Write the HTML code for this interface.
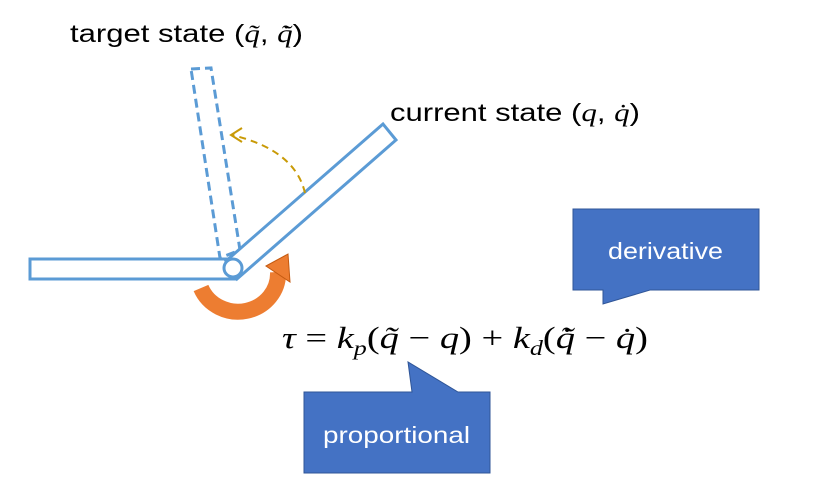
<!DOCTYPE html>
<html><head><meta charset="utf-8"><style>
html,body{margin:0;padding:0;background:#fff;}
svg{display:block;}
.t{font-family:"Liberation Sans",sans-serif;font-size:25px;fill:#000;}
.m{font-family:"Liberation Serif",serif;font-style:italic;}
.w{font-family:"Liberation Sans",sans-serif;font-size:23px;fill:#fff;}
</style></head><body>
<svg width="818" height="492" viewBox="0 0 818 492" xmlns="http://www.w3.org/2000/svg">
<text class="t" x="70" y="42" textLength="233" lengthAdjust="spacingAndGlyphs">target state (<tspan class="m">q̃</tspan>, <tspan class="m">q̃̇</tspan>)</text>
<text class="t" x="390" y="121" textLength="250" lengthAdjust="spacingAndGlyphs">current state (<tspan class="m">q</tspan>, <tspan class="m">q̇</tspan>)</text>

<!-- dashed target link -->
<polygon points="191,69 211,68 240,250 220,258" fill="none" stroke="#5B9BD5" stroke-width="3" stroke-dasharray="9,5"/>
<!-- base link -->
<rect x="30" y="259" width="205" height="20" fill="#fff" stroke="#5B9BD5" stroke-width="3"/>
<!-- current link -->
<polygon points="226,261 383,124 396,140 237,279" fill="#fff" stroke="#5B9BD5" stroke-width="3"/>
<circle cx="233" cy="268" r="9" fill="#fff" stroke="#5B9BD5" stroke-width="3"/>

<!-- yellow dashed arc -->
<path d="M305,193 Q295,150 232,135" fill="none" stroke="#C99A06" stroke-width="2" stroke-dasharray="7,5"/>
<path d="M242,128 L231,135 L242,142" fill="none" stroke="#C99A06" stroke-width="2"/>

<!-- orange rotation arrow -->
<path d="M201,288 A40,38 0 0 0 278,272" fill="none" stroke="#ED7D31" stroke-width="16"/>
<polygon points="266,266 288,254 290,282" fill="#ED7D31" stroke="#C55A11" stroke-width="1"/>

<!-- equation -->
<text x="282" y="348" font-family="Liberation Serif,serif" font-size="31" fill="#000" textLength="366" lengthAdjust="spacingAndGlyphs"><tspan font-style="italic">τ</tspan> = <tspan font-style="italic">k</tspan><tspan font-style="italic" font-size="21" dy="7">p</tspan><tspan dy="-7">(</tspan><tspan font-style="italic">q̃</tspan> − <tspan font-style="italic">q</tspan>) + <tspan font-style="italic">k</tspan><tspan font-style="italic" font-size="21" dy="7">d</tspan><tspan dy="-7">(</tspan><tspan font-style="italic">q̃̇</tspan> − <tspan font-style="italic">q̇</tspan>)</text>

<!-- derivative callout -->
<path d="M573,209 H759 V290 H650 L603,304 V290 H573 Z" fill="#4472C4" stroke="#2F5597" stroke-width="1"/>
<text class="w" x="608" y="259" textLength="115" lengthAdjust="spacingAndGlyphs">derivative</text>

<!-- proportional callout -->
<path d="M304,392 H412 L408,362 L458,392 H490 V473 H304 Z" fill="#4472C4" stroke="#2F5597" stroke-width="1"/>
<text class="w" x="323" y="443" textLength="147" lengthAdjust="spacingAndGlyphs">proportional</text>
</svg>
</body></html>
